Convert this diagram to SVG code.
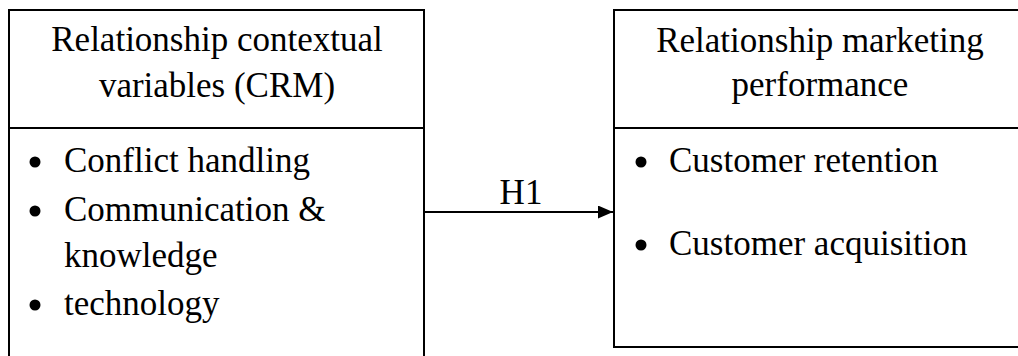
<svg xmlns="http://www.w3.org/2000/svg" width="1018" height="356" viewBox="0 0 1018 356">
<style>
text{font-family:"Liberation Serif","Times New Roman",serif;font-size:35px;fill:#000}
.c{text-anchor:middle}
.box{fill:#fff;stroke:#000;stroke-width:2}
.ln{stroke:#000;stroke-width:2;fill:none}
</style>
<defs>
<marker id="ah" markerWidth="15" markerHeight="13" refX="15" refY="6.5" orient="auto" markerUnits="userSpaceOnUse">
<path d="M0,0 L15,6.5 L0,13 Z" fill="#000"/>
</marker>
</defs>
<rect width="1018" height="356" fill="#fff"/>
<g id="node-left">
<rect class="box" x="9" y="10" width="415" height="360"/>
<line class="ln" x1="9" y1="128" x2="424" y2="128"/>
<text class="c" x="217" y="51">Relationship contextual</text>
<text class="c" x="217" y="97">variables (CRM)</text>
<circle cx="35" cy="162" r="5.5"/>
<text x="64" y="172">Conflict handling</text>
<circle cx="35" cy="211" r="5.5"/>
<text x="64" y="221">Communication &amp;</text>
<text x="64" y="267">knowledge</text>
<circle cx="35" cy="305" r="5.5"/>
<text x="64" y="315">technology</text>
</g>
<g id="node-right">
<rect class="box" x="614" y="10" width="412" height="337"/>
<line class="ln" x1="614" y1="128" x2="1026" y2="128"/>
<text class="c" x="820" y="52">Relationship marketing</text>
<text class="c" x="820" y="96">performance</text>
<circle cx="641" cy="162" r="5.5"/>
<text x="669" y="172">Customer retention</text>
<circle cx="641" cy="245" r="5.5"/>
<text x="669" y="255">Customer acquisition</text>
</g>
<g id="connectors">
<line class="ln" x1="424" y1="212" x2="613" y2="212" marker-end="url(#ah)"/>
<text class="c" x="521" y="204">H1</text>
</g>
</svg>
